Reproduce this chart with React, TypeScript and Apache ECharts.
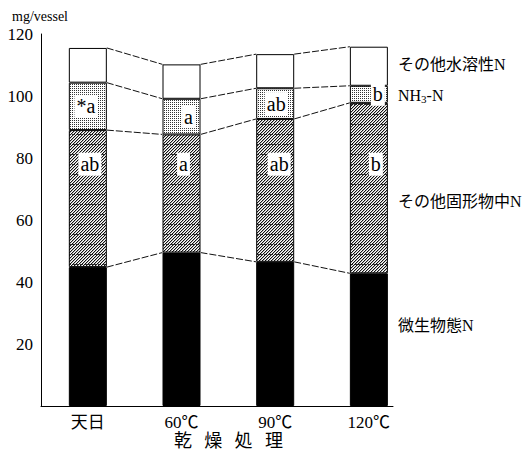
import React, { useEffect, useRef } from 'react';
import * as echarts from 'echarts';

// Drying treatments and nitrogen fractions (mg/vessel)
const categories = ['天日', '60℃', '90℃', '120℃'];
const microbialN = [44.8, 49.5, 46.5, 42.8];
const otherSolidN = [44.2, 38.1, 46.1, 55.0];
const ammoniumN = [15.3, 11.5, 9.9, 5.5];
const otherSolubleN = [11.2, 11.1, 11.0, 12.6];

// Significance letters for the NH3-N and solid-N fractions
const ammoniumLetters = ['*a', 'a', 'ab', 'b'];
const solidLetters = ['ab', 'a', 'ab', 'b'];
const solidLetterLevel = 78;

const yTicks = [0, 20, 40, 60, 80, 100, 120];
const axisTitleChars = ['乾', '燥', '処', '理'];

const SERIF = '"Liberation Serif", "Noto Sans CJK JP", serif';
const BAR_W = 38;

function makeHatch(): HTMLCanvasElement {
  const c = document.createElement('canvas');
  c.width = 30;
  c.height = 30;
  const ctx = c.getContext('2d')!;
  ctx.fillStyle = '#ffffff';
  ctx.fillRect(0, 0, 30, 30);
  for (let y = 0; y < 30; y++) {
    for (let x = 0; x < 30; x++) {
      const k = (x + y) % 3;
      if (k === 0) {
        ctx.fillStyle = '#111111';
        ctx.fillRect(x, y, 1, 1);
      } else if (y % 10 === 4 && x % 4 !== 3) {
        ctx.fillStyle = '#333333';
        ctx.fillRect(x, y, 1, 1);
      } else if (k === 1) {
        ctx.fillStyle = '#b4b4b4';
        ctx.fillRect(x, y, 1, 1);
      }
    }
  }
  return c;
}

function makeDots(): HTMLCanvasElement {
  const c = document.createElement('canvas');
  c.width = 2;
  c.height = 2;
  const ctx = c.getContext('2d')!;
  ctx.fillStyle = '#ffffff';
  ctx.fillRect(0, 0, 2, 2);
  ctx.fillStyle = '#333333';
  ctx.fillRect(0, 0, 1, 1);
  return c;
}

export default function App() {
  const ref = useRef<HTMLDivElement>(null);

  useEffect(() => {
    if (!ref.current) return;
    const chart = echarts.init(ref.current, null, { renderer: 'svg' });

    const layers = [microbialN, otherSolidN, ammoniumN, otherSolubleN];
    const cumulative: number[][] = [];
    layers.forEach((layer, li) => {
      cumulative.push(layer.map((v, i) => v + (li > 0 ? cumulative[li - 1][i] : 0)));
    });

    const connectorData: number[][] = [];
    cumulative.forEach((level) => {
      for (let i = 0; i < categories.length - 1; i++) {
        connectorData.push([i, level[i], level[i + 1]]);
      }
    });

    const letterTexts: string[] = [];
    const letterData: number[][] = [];
    categories.forEach((_, i) => {
      letterData.push([i, (cumulative[1][i] + cumulative[2][i]) / 2]);
      letterTexts.push(ammoniumLetters[i]);
      letterData.push([i, solidLetterLevel]);
      letterTexts.push(solidLetters[i]);
    });
    const letterShift = [-2, 2, 7, 2, 1, 4, 9, 7];

    const border = { borderColor: '#000', borderWidth: 1 };
    const barBase = {
      type: 'bar' as const,
      stack: 'n',
      barWidth: BAR_W,
      silent: true,
      xAxisIndex: 0,
      yAxisIndex: 0,
    };

    const plotGrid = { top: 34, bottom: 52, left: 41 };

    chart.setOption({
      animation: false,
      backgroundColor: '#ffffff',
      grid: [
        { ...plotGrid, right: 116.3, containLabel: false },
        { ...plotGrid, right: 139, containLabel: false },
      ],
      xAxis: [
        {
          type: 'category',
          data: categories,
          gridIndex: 0,
          boundaryGap: true,
          splitLine: { show: false },
          axisTick: { show: false },
          axisLine: { show: false },
          axisLabel: {
            color: '#000',
            fontFamily: SERIF,
            fontSize: 17,
            margin: 8,
          },
        },
        {
          // baseline drawn separately so it stops short of the last band
          type: 'value',
          gridIndex: 1,
          min: 0,
          max: 1,
          splitLine: { show: false },
          axisTick: { show: false },
          axisLabel: { show: false },
          axisLine: { show: true, lineStyle: { color: '#000', width: 1 } },
        },
      ],
      yAxis: [
        {
          type: 'value',
          gridIndex: 0,
          min: 0,
          max: 120,
          interval: 20,
          splitLine: { show: false },
          axisTick: { show: false },
          axisLine: { show: true, lineStyle: { color: '#000', width: 1 } },
          axisLabel: {
            formatter: (v: number) => (v === 0 || !yTicks.includes(v) ? '' : String(v)),
            color: '#000',
            fontFamily: SERIF,
            fontSize: 17,
            margin: 8,
          },
        },
        {
          type: 'value',
          gridIndex: 1,
          min: 0,
          max: 1,
          show: false,
        },
      ],
      series: [
        { ...barBase, name: '微生物態N', data: microbialN, itemStyle: { color: '#000', ...border } },
        {
          ...barBase,
          name: 'その他固形物中N',
          data: otherSolidN,
          itemStyle: { color: { image: makeHatch(), repeat: 'repeat' }, ...border },
        },
        {
          ...barBase,
          name: 'NH3-N',
          data: ammoniumN,
          itemStyle: { color: { image: makeDots(), repeat: 'repeat' }, ...border },
        },
        { ...barBase, name: 'その他水溶性N', data: otherSolubleN, itemStyle: { color: '#fff', ...border } },
        {
          type: 'custom',
          name: 'connectors',
          silent: true,
          xAxisIndex: 0,
          yAxisIndex: 0,
          data: connectorData,
          renderItem: (params: any, api: any) => {
            const a = api.coord([api.value(0), api.value(1)]);
            const b = api.coord([api.value(0) + 1, api.value(2)]);
            return {
              type: 'line',
              shape: { x1: a[0] + BAR_W / 2, y1: a[1], x2: b[0] - BAR_W / 2, y2: b[1] },
              style: { stroke: '#111', lineWidth: 1, lineDash: [7, 2] },
            };
          },
          z: 1,
        },
        {
          type: 'custom',
          name: 'letters',
          silent: true,
          xAxisIndex: 0,
          yAxisIndex: 0,
          data: letterData,
          renderItem: (params: any, api: any) => {
            const p = api.coord([api.value(0), api.value(1)]);
            return {
              type: 'text',
              x: p[0] + letterShift[params.dataIndex],
              y: p[1],
              style: {
                text: letterTexts[params.dataIndex],
                fill: '#000',
                font: `20px ${SERIF}`,
                align: 'center',
                verticalAlign: 'middle',
                backgroundColor: '#fff',
                padding: [2, 2, 1, 2],
              },
            };
          },
          z: 5,
        },
      ],
      graphic: [
        {
          type: 'text',
          left: 12,
          top: 9,
          style: { text: 'mg/vessel', fill: '#000', font: `14px ${SERIF}` },
        },
        {
          type: 'text',
          x: 398,
          y: 64,
          style: { text: 'その他水溶性N', fill: '#000', font: `16px ${SERIF}`, verticalAlign: 'middle' },
        },
        {
          type: 'text',
          x: 398,
          y: 95,
          style: {
            text: 'NH{sub|3}-N',
            fill: '#000',
            font: `16px ${SERIF}`,
            verticalAlign: 'middle',
            rich: { sub: { fontSize: 11, fontFamily: SERIF, verticalAlign: 'bottom', padding: [8, 0, 0, 0] } },
          },
        },
        {
          type: 'text',
          x: 398,
          y: 201,
          style: { text: 'その他固形物中N', fill: '#000', font: `16px ${SERIF}`, verticalAlign: 'middle' },
        },
        {
          type: 'text',
          x: 398,
          y: 325,
          style: { text: '微生物態N', fill: '#000', font: `16px ${SERIF}`, verticalAlign: 'middle' },
        },
        ...axisTitleChars.map((ch, i) => ({
          type: 'text',
          x: 183 + i * 30.3,
          y: 441,
          style: { text: ch, fill: '#000', font: `18px ${SERIF}`, align: 'center', verticalAlign: 'middle' },
        })),
      ],
    });

    return () => chart.dispose();
  }, []);

  return <div ref={ref} style={{ width: 532, height: 458, margin: -8 }} />;
}
